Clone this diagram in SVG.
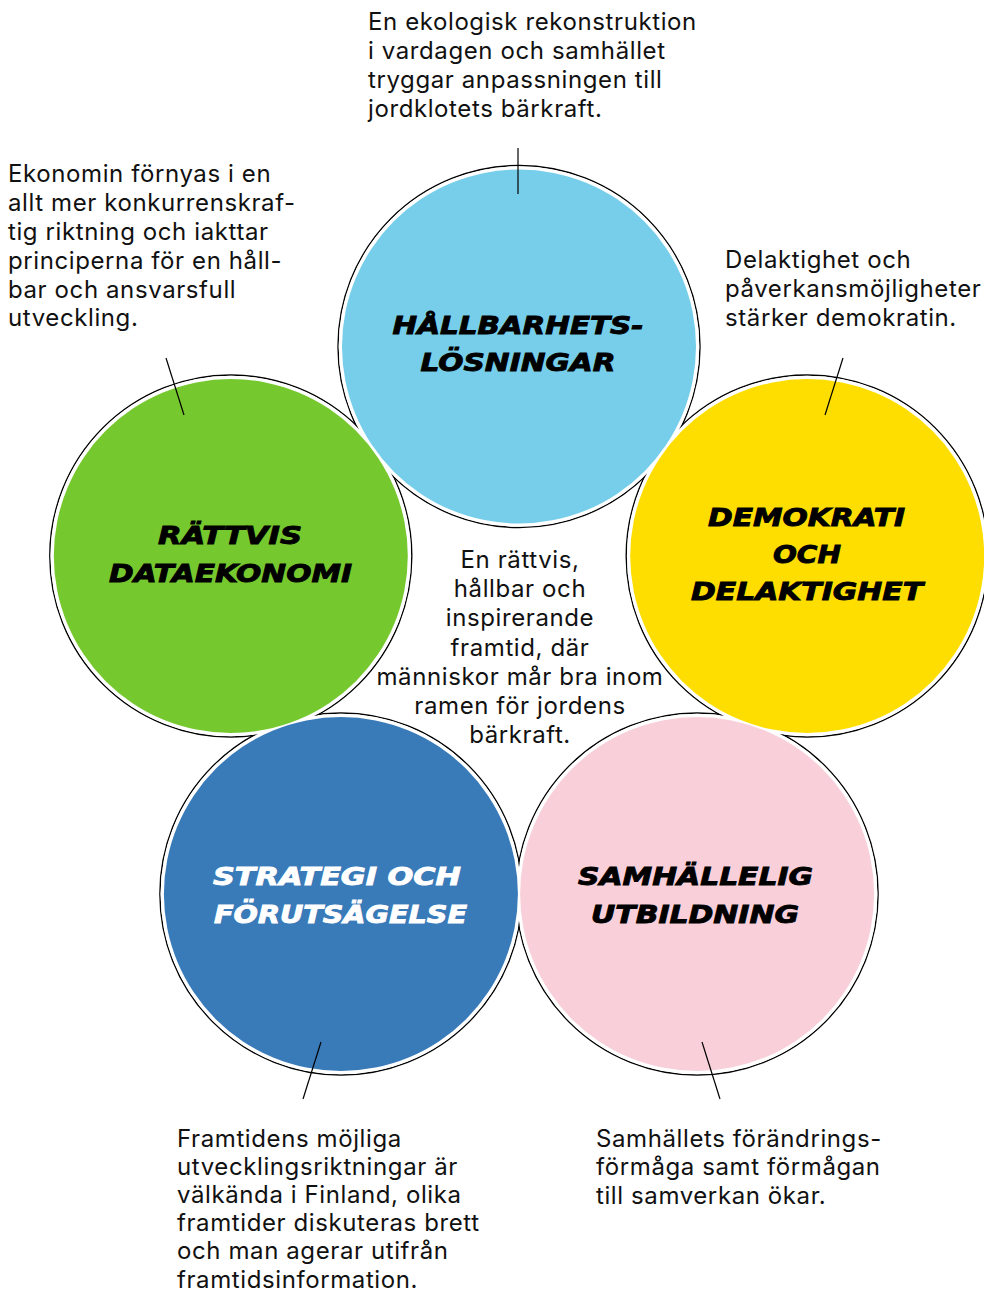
<svg xmlns="http://www.w3.org/2000/svg" width="984" height="1292" viewBox="0 0 984 1292">
<style>
.body{font-family:Inter,"Noto Sans",sans-serif;font-size:24px;letter-spacing:0.6px;fill:#111;}
.title{font-family:"DejaVu Sans",sans-serif;font-weight:bold;font-style:italic;font-size:24px;text-anchor:middle;fill:#000;stroke:#000;stroke-width:0.9;}
.wt{fill:#fff;stroke:#fff;}
.ring{fill:none;stroke:#000;stroke-width:1.4;}
.gap{fill:#fff;}
.lead{stroke:#000;stroke-width:1.2;fill:none;}
</style>
<rect width="984" height="1292" fill="#fff"/>
<g id="outlines">
<circle class="ring" cx="519" cy="346.5" r="181"/>
<circle class="ring" cx="230.8" cy="556" r="181"/>
<circle class="ring" cx="807.2" cy="556" r="181"/>
<circle class="ring" cx="340.9" cy="894" r="181"/>
<circle class="ring" cx="697.1" cy="894" r="181"/>
<circle class="gap" cx="519" cy="346.5" r="180.3"/>
<circle class="gap" cx="230.8" cy="556" r="180.3"/>
<circle class="gap" cx="807.2" cy="556" r="180.3"/>
<circle class="gap" cx="340.9" cy="894" r="180.3"/>
<circle class="gap" cx="697.1" cy="894" r="180.3"/>
</g>
<g id="node-hallbarhet">
<circle cx="519" cy="346.5" r="177" fill="#76CEEA"/>
<text class="title" x="518" y="334" textLength="251" lengthAdjust="spacingAndGlyphs">HÅLLBARHETS-</text>
<text class="title" x="518" y="371" textLength="195" lengthAdjust="spacingAndGlyphs">LÖSNINGAR</text>
</g>
<g id="node-dataekonomi">
<circle cx="230.8" cy="556" r="177" fill="#76C82F"/>
<text class="title" x="230" y="544" textLength="144" lengthAdjust="spacingAndGlyphs">RÄTTVIS</text>
<text class="title" x="230.5" y="582" textLength="243" lengthAdjust="spacingAndGlyphs">DATAEKONOMI</text>
</g>
<g id="node-demokrati">
<circle cx="807.2" cy="556" r="177" fill="#FEDE00"/>
<text class="title" x="806.5" y="526" textLength="197" lengthAdjust="spacingAndGlyphs">DEMOKRATI</text>
<text class="title" x="807" y="563" textLength="68" lengthAdjust="spacingAndGlyphs">OCH</text>
<text class="title" x="807" y="600" textLength="232" lengthAdjust="spacingAndGlyphs">DELAKTIGHET</text>
</g>
<g id="node-strategi">
<circle cx="340.9" cy="894" r="177" fill="#397AB9"/>
<text class="title wt" x="337" y="885" textLength="248" lengthAdjust="spacingAndGlyphs">STRATEGI OCH</text>
<text class="title wt" x="340.5" y="923" textLength="253" lengthAdjust="spacingAndGlyphs">FÖRUTSÄGELSE</text>
</g>
<g id="node-utbildning">
<circle cx="697.1" cy="894" r="177" fill="#F9D0DA"/>
<text class="title" x="695.5" y="885" textLength="235" lengthAdjust="spacingAndGlyphs">SAMHÄLLELIG</text>
<text class="title" x="695" y="923" textLength="208" lengthAdjust="spacingAndGlyphs">UTBILDNING</text>
</g>
<g id="connectors">
<line class="lead" x1="518" y1="148" x2="518" y2="194"/>
<line class="lead" x1="166" y1="358" x2="184" y2="415"/>
<line class="lead" x1="843" y1="358" x2="825" y2="415"/>
<line class="lead" x1="321" y1="1042" x2="303" y2="1099"/>
<line class="lead" x1="702" y1="1042" x2="720" y2="1099"/>
</g>
<g id="texts">
<text class="body" x="368" y="30">En ekologisk rekonstruktion</text>
<text class="body" x="368" y="59">i vardagen och samhället</text>
<text class="body" x="368" y="88">tryggar anpassningen till</text>
<text class="body" x="368" y="117">jordklotets bärkraft.</text>
<text class="body" x="8" y="181.5">Ekonomin förnyas i en</text>
<text class="body" x="8" y="210.5">allt mer konkurrenskraf-</text>
<text class="body" x="8" y="239.5">tig riktning och iakttar</text>
<text class="body" x="8" y="268.5">principerna för en håll-</text>
<text class="body" x="8" y="297.5">bar och ansvarsfull</text>
<text class="body" x="8" y="326">utveckling.</text>
<text class="body" x="725" y="268">Delaktighet och</text>
<text class="body" x="725" y="297">påverkansmöjligheter</text>
<text class="body" x="725" y="326">stärker demokratin.</text>
<g text-anchor="middle">
<text class="body" x="520" y="568">En rättvis,</text>
<text class="body" x="520" y="597">hållbar och</text>
<text class="body" x="520" y="626">inspirerande</text>
<text class="body" x="520" y="655.5">framtid, där</text>
<text class="body" x="520" y="685">människor mår bra inom</text>
<text class="body" x="520" y="714">ramen för jordens</text>
<text class="body" x="520" y="742.5">bärkraft.</text>
</g>
<text class="body" x="177" y="1146.5">Framtidens möjliga</text>
<text class="body" x="177" y="1174.7">utvecklingsriktningar är</text>
<text class="body" x="177" y="1202.9">välkända i Finland, olika</text>
<text class="body" x="177" y="1231.1">framtider diskuteras brett</text>
<text class="body" x="177" y="1259.3">och man agerar utifrån</text>
<text class="body" x="177" y="1287.5">framtidsinformation.</text>
<text class="body" x="596" y="1146.5">Samhällets förändrings-</text>
<text class="body" x="596" y="1175">förmåga samt förmågan</text>
<text class="body" x="596" y="1203.5">till samverkan ökar.</text>
</g>
</svg>
